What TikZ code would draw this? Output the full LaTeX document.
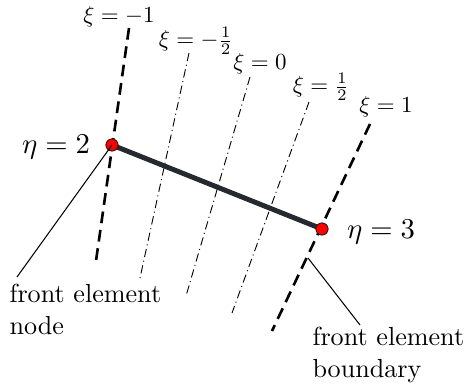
\documentclass[tikz,border=0pt]{standalone}
\begin{document}
\begin{tikzpicture}[x=0.383pt,y=-0.383pt,
  bnd/.style={line width=1pt,dash pattern=on 4.5pt off 2.6pt},
  mid/.style={line width=0.35pt,dash pattern=on 3.2pt off 1.4pt on 0.4pt off 1.4pt},
  elem/.style={line width=1.9pt,draw={rgb,255:red,38;green,42;blue,48}},
  dot/.style={circle,fill=red,draw={rgb,255:red,60;green,20;blue,20},line width=0.3pt,inner sep=0pt,minimum size=4.6pt},
  lead/.style={line width=0.4pt},
  lbl/.style={inner sep=0pt},
  xil/.style={inner sep=0pt,scale=0.88}]
\useasboundingbox (0,0) rectangle (465,385);
% boundary and iso-lines
\coordinate (a1) at (129,28); \coordinate (a2) at (96,261);
\coordinate (b1) at (189,53); \coordinate (b2) at (140,278);
\coordinate (c1) at (250,77); \coordinate (c2) at (186,296);
\coordinate (d1) at (309,102); \coordinate (d2) at (232,313);
\coordinate (e1) at (370,124); \coordinate (e2) at (272,331);
\draw[bnd] (a1) -- (a2);
\draw[mid] (b1) -- (b2);
\draw[mid] (c1) -- (c2);
\draw[mid] (d1) -- (d2);
\draw[bnd] (e1) -- (e2);
% element
\node[dot] (n2) at (112,145) {};
\node[dot] (n3) at (322,229) {};
\draw[elem] (n2.center) -- (n3.center);
\node[dot] at (112,145) {};
\node[dot] at (322,229) {};
% labels
\node[xil] (x1) at (119,17) {$\xi=-1$};
\node[xil] (x2) at (196,41) {$\xi=-\frac{1}{2}$};
\node[xil] (x3) at (260,64) {$\xi=0$};
\node[xil] (x4) at (321,87) {$\xi=\frac{1}{2}$};
\node[xil] (x5) at (386,107) {$\xi=1$};
\node[lbl,scale=1.1] (h2) at (56,147) {$\eta=2$};
\node[lbl,scale=1.1] (h3) at (381,232) {$\eta=3$};
% annotations
\node[lbl,align=left,anchor=north west] (t1) at (9,284) {front element\\node};
\node[lbl,align=left,anchor=north west] (t2) at (312,327) {front element\\boundary};
\coordinate (l1) at (17,277);
\draw[lead] (n2.center) -- (l1);
\coordinate (p1) at (308,258);
\coordinate (p2) at (360,325);
\draw[lead] (p1) -- (p2);
\end{tikzpicture}
\end{document}
